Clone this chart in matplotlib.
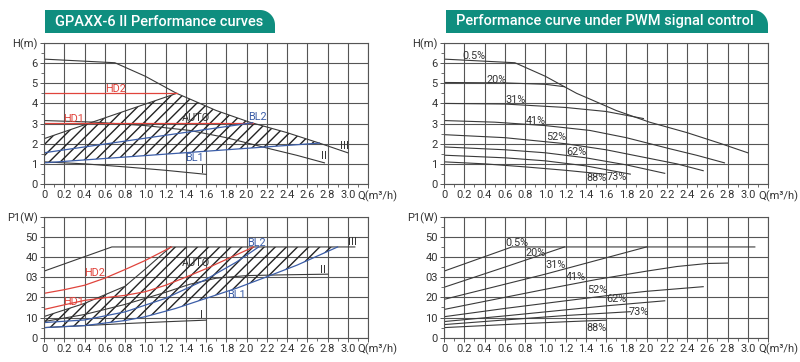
import numpy as np
import matplotlib.pyplot as plt
from matplotlib.patches import Polygon

plt.rcParams['font.family'] = ['Roboto', 'DejaVu Sans']

# ---- left, H(Q): constant curves, proportional (BL) and constant pressure (HD)
iii_q = [0, 0.7, 1.0, 1.31, 1.44, 1.7, 2.03, 2.4, 2.72, 3.0]
iii_h = [6.2, 6.02, 5.35, 4.5, 4.22, 3.65, 3.07, 2.55, 2.03, 1.55]
ii_q = [0, 0.5, 1.0, 1.44, 1.8, 2.23, 2.5, 2.77]
ii_h = [3.15, 3.07, 2.9, 2.66, 2.3, 1.75, 1.42, 1.05]
i_q = [0, 0.4, 0.8, 1.2, 1.6]
i_h = [1.1, 1.0, 0.85, 0.68, 0.48]
hd2_q = [0, 1.31]
hd2_h = [4.52, 4.52]
hd1_q = [0, 2.06]
hd1_h = [3.04, 3.04]
bl2_q = [0, 2.06]
bl2_h = [1.55, 3.04]
bl1_q = [0, 2.72]
bl1_h = [1.05, 2.03]
auto_q = [0, 1.31]
auto_h = [2.25, 4.5]

# ---- left, P1(Q)
iii_p_q = [0, 0.67, 3.07]
iii_p = [33, 45, 45]
ii_p_q = [0, 0.4, 0.8, 1.2, 1.44, 1.7, 2.0, 2.4, 2.8]
ii_p = [8, 11.5, 16.5, 22.5, 26.5, 29.5, 30.8, 31.2, 31.5]
i_p_q = [0, 0.4, 0.8, 1.2, 1.6]
i_p = [5, 6, 7, 7.9, 8.7]
hd2_p_q = [0, 0.2, 0.4, 0.6, 0.8, 1.0, 1.26]
hd2_p = [22, 23.8, 26, 29.5, 33.8, 38.3, 45]
hd1_p_q = [0, 0.2, 0.4, 0.6, 0.8, 1.0, 1.2, 1.4, 1.6, 1.8, 2.07]
hd1_p = [14, 16.3, 18.5, 19.8, 21, 22.8, 26, 30, 34.2, 38.8, 45]
bl2_p_q = [0, 0.4, 0.8, 1.2, 1.6, 1.9, 2.12]
bl2_p = [7.5, 8.8, 12.8, 19.5, 28.9, 37.5, 45]
bl1_p_q = [0, 0.4, 0.8, 1.0, 1.3, 1.6, 1.9, 2.2, 2.5, 2.9]
bl1_p = [5, 6, 8.5, 10.4, 14.5, 19.5, 24.5, 30.2, 36, 45]
auto_p_q = [0, 0.4, 0.8, 1.0, 1.25]
auto_p = [10.5, 17, 25.5, 34, 45]

# ---- right, PWM duty curves
pwm_names = ['0.5%', '20%', '31%', '41%', '52%', '62%', '73%', '88%']
pwm_h = [
    (iii_q, iii_h),
    ([0, 0.6, 1.0, 1.19], [5.04, 5.02, 4.95, 4.83]),
    ([0, 0.6, 1.2, 1.6, 1.97], [4.0, 3.97, 3.8, 3.6, 3.25]),
    (ii_q, ii_h),
    ([0, 0.6, 1.2, 1.6, 2.0, 2.3, 2.56], [2.45, 2.3, 2.0, 1.7, 1.3, 1.0, 0.66]),
    ([0, 0.6, 1.0, 1.4, 1.8, 2.18], [1.84, 1.7, 1.55, 1.3, 0.95, 0.53]),
    ([0, 0.6, 1.0, 1.4, 1.84], [1.43, 1.3, 1.15, 0.9, 0.49]),
    (i_q, i_h),
]
pwm_p = [
    (iii_p_q, iii_p),
    ([0, 0.6, 1.19], [25, 35, 45]),
    ([0, 1.0, 2.0], [19, 31.5, 45]),
    ([0, 0.5, 1.0, 1.5, 2.0, 2.3, 2.6, 2.8], [14, 19, 24, 28.8, 33, 35.3, 36.8, 37]),
    ([0, 0.6, 1.2, 1.6, 2.0, 2.56], [10.4, 14.5, 18.3, 20.8, 23, 25.3]),
    ([0, 0.6, 1.2, 1.6, 2.18], [8, 10.8, 13.8, 15.8, 18.3]),
    ([0, 0.6, 1.2, 1.84], [6.5, 8.8, 11, 12.9]),
    (i_p_q, i_p),
]
pwm_lab_h = [(0.30, 6.35), (0.52, 5.17), (0.71, 4.19), (0.91, 3.12),
             (1.11, 2.33), (1.31, 1.59), (1.71, 0.33), (1.51, 0.3)]
pwm_lab_p = [(0.72, 47.2), (0.90, 42.1), (1.10, 36.0), (1.30, 30.2),
             (1.51, 23.6), (1.70, 19.2), (1.92, 12.9), (1.51, 5.0)]

q_ticks = np.round(np.arange(0, 3.01, 0.2), 1)
q_labels = ['0'] + ['%.1f' % v for v in q_ticks[1:]]

GRID = '#555555'
LINE = '#3a3a3a'
RED = '#e0443c'
BLUE = '#3c5ea8'
TEAL = '#0f8e7f'

fig = plt.figure(figsize=(8, 3.62), dpi=100)


def px_ax(x0, x1, ytop, ybot):
    return fig.add_axes([x0 / 800, 1 - ybot / 362, (x1 - x0) / 800, (ybot - ytop) / 362])


def style(ax, ymax, ystep, ylab, ytxt):
    ax.set_xlim(0, 3.2)
    ax.set_ylim(0, ymax)
    ax.set_xticks(list(q_ticks) + [3.2])
    ax.set_xticklabels(q_labels + [''])
    ax.set_xticks(np.arange(0, 3.21, 0.1), minor=True)
    yt = np.arange(0, ymax + 0.01, ystep)
    ax.set_yticks(yt)
    ax.set_yticklabels(ytxt + [ylab])
    ax.set_yticks(np.arange(0, ymax + 0.01, ystep / 2), minor=True)
    ax.grid(True, which='major', color=GRID, linewidth=0.8)
    ax.tick_params(which='both', direction='out', colors=GRID, labelcolor='#333333',
                   labelsize=8, pad=1.5)
    ax.tick_params(which='major', length=3, width=0.7)
    ax.tick_params(which='minor', length=2, width=0.6)
    for s in ax.spines.values():
        s.set_color(GRID)
        s.set_linewidth(0.8)
    ax.set_axisbelow(True)
    ax.annotate('Q(m³/h)', xy=(3.1, 0), xycoords=('data', 'axes fraction'),
                xytext=(0, -4.5), textcoords='offset points', ha='left', va='top',
                fontsize=8, color='#333333', annotation_clip=False)


def lbl(ax, x, y, s, c='#333333'):
    ax.text(x, y, s, color=c, fontsize=7.8, ha='center', va='center')


h_txt = ['0', '1', '2', '3', '4', '5', '6']
p_txt = ['0', '10', '20', '03', '40', '50']

# ---------------- left H
ax = px_ax(44, 368, 43, 184)
style(ax, 7, 1, 'H(m)', h_txt)
poly_q = auto_q + iii_q[4:9] + bl1_q[::-1]
poly_h = auto_h + iii_h[4:9] + bl1_h[::-1]
ax.add_patch(Polygon(np.column_stack([poly_q, poly_h]), closed=True, facecolor='none',
                     edgecolor='#222222', hatch='///', linewidth=0))
ax.plot(auto_q, auto_h, color=LINE, lw=0.8)
for q, h in [(iii_q, iii_h), (ii_q, ii_h), (i_q, i_h)]:
    ax.plot(q, h, color=LINE, lw=0.8)
ax.plot(hd2_q, hd2_h, color=RED, lw=0.9)
ax.plot(hd1_q, hd1_h, color=RED, lw=0.9)
ax.plot(bl2_q, bl2_h, color=BLUE, lw=0.9)
ax.plot(bl1_q, bl1_h, color=BLUE, lw=0.9)
lbl(ax, 0.71, 4.71, 'HD2', RED)
lbl(ax, 0.29, 3.24, 'HD1', RED)
lbl(ax, 1.50, 3.26, 'AUTO')
lbl(ax, 2.11, 3.32, 'BL2', BLUE)
lbl(ax, 1.49, 1.31, 'BL1', BLUE)
lbl(ax, 1.57, 0.69, 'I')
lbl(ax, 2.77, 1.38, 'II')
lbl(ax, 2.97, 1.87, 'III')

# ---------------- left P1
ax = px_ax(44, 368, 216.7, 337.7)
style(ax, 60, 10, 'P1(W)', p_txt)
poly_q = auto_p_q + bl1_p_q[::-1]
poly_p = auto_p + bl1_p[::-1]
ax.add_patch(Polygon(np.column_stack([poly_q, poly_p]), closed=True, facecolor='none',
                     edgecolor='#222222', hatch='///', linewidth=0))
ax.plot(auto_p_q, auto_p, color=LINE, lw=0.8)
for q, p in [(iii_p_q, iii_p), (ii_p_q, ii_p), (i_p_q, i_p)]:
    ax.plot(q, p, color=LINE, lw=0.8)
ax.plot(hd2_p_q, hd2_p, color=RED, lw=0.9)
ax.plot(hd1_p_q, hd1_p, color=RED, lw=0.9)
ax.plot(bl2_p_q, bl2_p, color=BLUE, lw=0.9)
ax.plot(bl1_p_q, bl1_p, color=BLUE, lw=0.9)
lbl(ax, 0.50, 32.2, 'HD2', RED)
lbl(ax, 0.29, 17.8, 'HD1', RED)
lbl(ax, 1.50, 37.1, 'AUTO')
lbl(ax, 2.10, 47.2, 'BL2', BLUE)
lbl(ax, 1.90, 21.1, 'BL1', BLUE)
lbl(ax, 1.56, 11.2, 'I')
lbl(ax, 2.76, 33.5, 'II')
lbl(ax, 3.05, 47.5, 'III')

# ---------------- right H
ax = px_ax(444, 768, 43, 184)
style(ax, 7, 1, 'H(m)', h_txt)
for (q, h), name, (lx, ly) in zip(pwm_h, pwm_names, pwm_lab_h):
    ax.plot(q, h, color=LINE, lw=0.8)
    lbl(ax, lx, ly, name)

# ---------------- right P1
ax = px_ax(444, 768, 216.7, 337.7)
style(ax, 60, 10, 'P1(W)', p_txt)
for (q, p), name, (lx, ly) in zip(pwm_p, pwm_names, pwm_lab_p):
    ax.plot(q, p, color=LINE, lw=0.8)
    lbl(ax, lx, ly, name)


# ---------------- title banners (rounded top-right corner)
def banner(x0, x1, y0, y1, r, text):
    t = np.linspace(0, np.pi / 2, 20)
    xs = [x0, x0] + list(x1 - r + r * np.sin(t)) + [x1]
    ys = [y1, y0] + list(y0 + r - r * np.cos(t)) + [y1]
    pts = np.column_stack([np.array(xs) / 800, 1 - np.array(ys) / 362])
    fig.patches.append(Polygon(pts, closed=True, facecolor=TEAL, edgecolor='none',
                               transform=fig.transFigure))
    fig.text((x0 + 10) / 800, 1 - (y0 + y1) / 2 / 362, text, color='white',
             fontsize=10.5, fontweight='medium', va='center', ha='left')


banner(45, 275, 10, 33, 15, 'GPAXX-6 II Performance curves')
banner(446, 768, 10, 33, 15, 'Performance curve under PWM signal control')

fig.savefig('out.png', dpi=100)
